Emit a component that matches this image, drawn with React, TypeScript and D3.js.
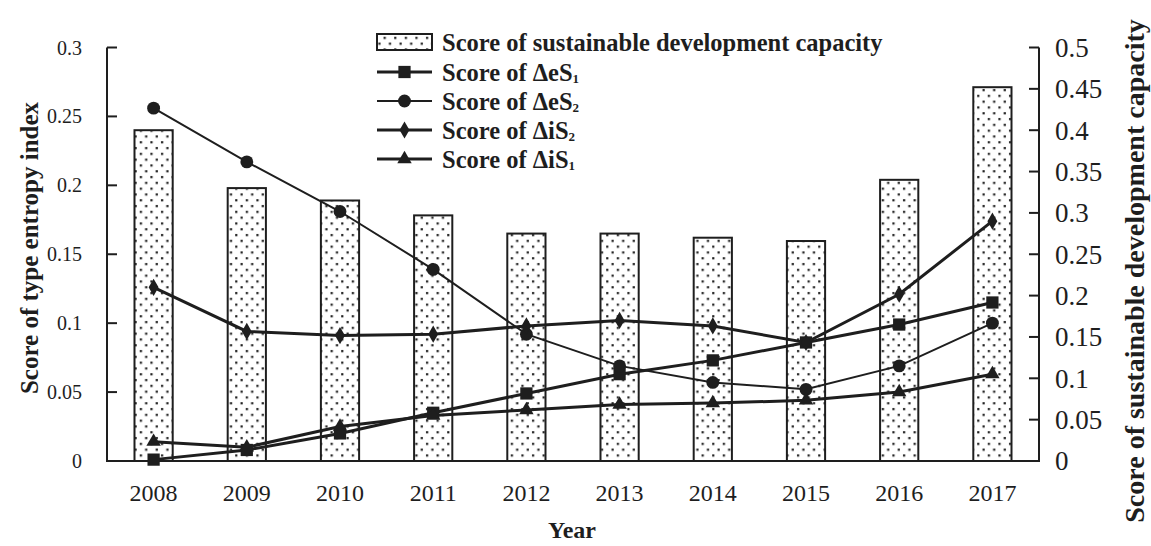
import React from 'react'
import * as d3 from 'd3'

// data
const years = ['2008', '2009', '2010', '2011', '2012', '2013', '2014', '2015', '2016', '2017']
const capacity = [0.4, 0.33, 0.315, 0.297, 0.275, 0.275, 0.27, 0.266, 0.34, 0.452]
const deS1 = [0.001, 0.008, 0.02, 0.035, 0.049, 0.063, 0.073, 0.086, 0.099, 0.115]
const deS2 = [0.256, 0.217, 0.181, 0.139, 0.092, 0.069, 0.057, 0.052, 0.069, 0.1]
const diS2 = [0.126, 0.094, 0.091, 0.092, 0.098, 0.102, 0.098, 0.086, 0.121, 0.174]
const diS1 = [0.014, 0.01, 0.025, 0.033, 0.037, 0.041, 0.042, 0.044, 0.05, 0.063]
const leftTicks = [0, 0.05, 0.1, 0.15, 0.2, 0.25, 0.3]
const rightTicks = [0, 0.05, 0.1, 0.15, 0.2, 0.25, 0.3, 0.35, 0.4, 0.45, 0.5]

const ink = '#1e1e1e'
const font = "'Liberation Serif', 'Times New Roman', serif"

const margin = {left: 107, right: 1039, top: 47.5, bottom: 461}

const series = [
  {name: 'eS', sub: '1', values: deS1, symbol: d3.symbolSquare, size: 150, width: 3},
  {name: 'eS', sub: '2', values: deS2, symbol: d3.symbolCircle, size: 130, width: 2},
  {name: 'iS', sub: '2', values: diS2, symbol: d3.symbolDiamond, size: 85, width: 3},
  {name: 'iS', sub: '1', values: diS1, symbol: d3.symbolTriangle, size: 90, width: 3},
]

export default function App() {
  const x = d3.scaleBand().domain(years).range([margin.left, margin.right]).padding(0)
  const yL = d3.scaleLinear().domain([0, 0.3]).range([margin.bottom, margin.top])
  const yR = d3.scaleLinear().domain([0, 0.5]).range([margin.bottom, margin.top])
  const barW = x.bandwidth() * 0.41
  const cx = (d: string) => (x(d) as number) + x.bandwidth() / 2

  const line = d3.line<number>()
    .x((d, i) => cx(years[i]))
    .y(d => yL(d))

  const legendX = 377
  const legendRows = [42, 72, 101, 130, 159]

  return (
    <svg width={1151} height={546} style={{position: 'absolute', left: 0, top: 0, background: '#fff'}}
         fontFamily={font}>
      <defs>
        <pattern id="dots" width={10.6} height={11.6} patternUnits="userSpaceOnUse">
          <rect width={10.6} height={11.6} fill="#fff"/>
          <rect x={2} y={2} width={2.2} height={2.2} fill={ink}/>
          <rect x={7.3} y={7.8} width={2.2} height={2.2} fill={ink}/>
        </pattern>
      </defs>

      {/* bars on the right axis */}
      {years.map((d, i) => (
        <rect key={d} x={cx(d) - barW / 2} y={yR(capacity[i])} width={barW}
              height={margin.bottom - yR(capacity[i])}
              fill="url(#dots)" stroke={ink} strokeWidth={2}/>
      ))}

      {/* lines */}
      {series.map((s, k) => (
        <g key={k}>
          <path d={line(s.values) as string} fill="none" stroke={ink} strokeWidth={s.width}/>
          {s.values.map((v, i) => (
            <path key={i} d={d3.symbol().type(s.symbol).size(s.size)() as string}
                  transform={`translate(${cx(years[i])},${yL(v)})`} fill={ink}/>
          ))}
        </g>
      ))}

      {/* axes */}
      <path d={`M${margin.left},${margin.top}V${margin.bottom}H${margin.right}V${margin.top}`}
            fill="none" stroke={ink} strokeWidth={2}/>
      {leftTicks.map(t => (
        <g key={t}>
          <line x1={margin.left} x2={margin.left + 10} y1={yL(t)} y2={yL(t)} stroke={ink} strokeWidth={2}/>
          <text x={82} y={yL(t)} dy="0.35em" textAnchor="end" fontSize={20} fill={ink}>{t}</text>
        </g>
      ))}
      {rightTicks.map(t => (
        <g key={t}>
          <line x1={margin.right - 10} x2={margin.right} y1={yR(t)} y2={yR(t)} stroke={ink} strokeWidth={2}/>
          <text x={1055} y={yR(t)} dy="0.35em" fontSize={27} fill={ink}>{t}</text>
        </g>
      ))}
      {years.map(d => (
        <text key={d} x={cx(d)} y={493} dy="0.35em" textAnchor="middle" fontSize={24} fill={ink}>{d}</text>
      ))}

      {/* axis titles */}
      <text transform="translate(29,248) rotate(-90)" textAnchor="middle" dy="0.35em"
            fontSize={25} fontWeight="bold" fill={ink}>Score of type entropy index</text>
      <text transform="translate(1134,271) rotate(-90)" textAnchor="middle" dy="0.35em"
            fontSize={28} fontWeight="bold" fill={ink}>Score of sustainable development capacity</text>
      <text x={572} y={530} dy="0.35em" textAnchor="middle" fontSize={24} fontWeight="bold" fill={ink}>Year</text>

      {/* legend */}
      <rect x={legendX} y={legendRows[0] - 8} width={55} height={16} fill="url(#dots)" stroke={ink} strokeWidth={2}/>
      <text x={legendX + 65} y={legendRows[0]} dy="0.35em" fontSize={24.5} fontWeight="bold" fill={ink}>
        Score of sustainable development capacity
      </text>
      {series.map((s, k) => {
        const ly = legendRows[k + 1]
        return (
          <g key={k}>
            <line x1={legendX} x2={legendX + 55} y1={ly} y2={ly} stroke={ink} strokeWidth={s.width}/>
            <path d={d3.symbol().type(s.symbol).size(s.size)() as string}
                  transform={`translate(${legendX + 27.5},${ly})`} fill={ink}/>
            <text x={legendX + 65} y={ly} dy="0.35em" fontSize={24.5} fontWeight="bold" fill={ink}>
              Score of Δ{s.name}<tspan fontSize={13} dy={2}>{s.sub}</tspan>
            </text>
          </g>
        )
      })}
    </svg>
  )
}
